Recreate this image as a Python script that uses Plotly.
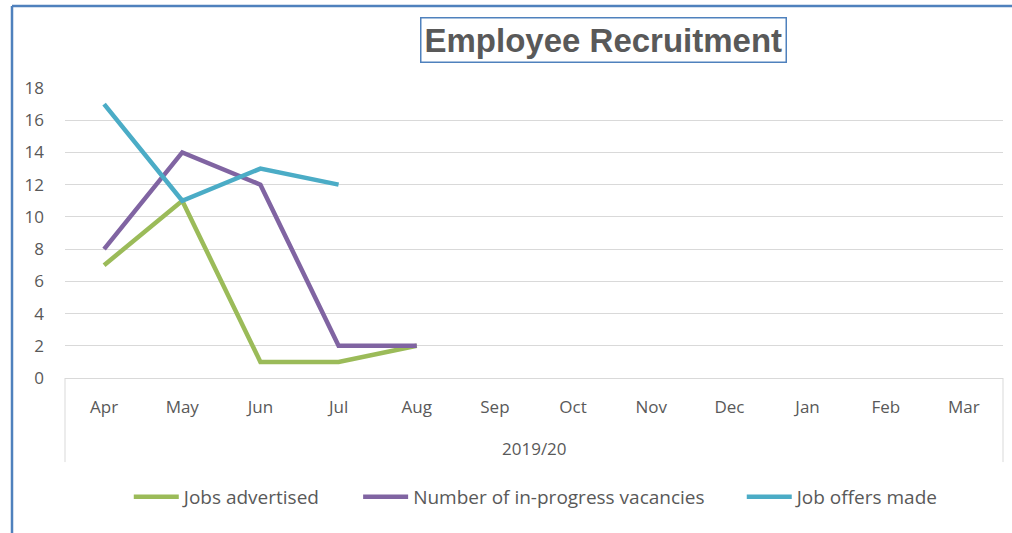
import plotly.graph_objects as go

months = ["Apr", "May", "Jun", "Jul", "Aug", "Sep", "Oct", "Nov", "Dec", "Jan", "Feb", "Mar"]
year_label = "2019/20"

jobs_advertised = [7, 11, 1, 1, 2]
in_progress = [8, 14, 12, 2, 2]
offers_made = [17, 11, 13, 12]

series = [
    ("Jobs advertised", jobs_advertised, "#9BBB59"),
    ("Number of in-progress vacancies", in_progress, "#8064A2"),
    ("Job offers made", offers_made, "#4BACC6"),
]

text_color = "#595959"
grid_color = "#D9D9D9"
border_blue = "#4F81BD"
font_family = "'Open Sans', Lato, sans-serif"

# left edge (in plot-area fraction) of each legend entry
legend_x = [0.068, 0.3125, 0.7215]

fig = go.Figure()
legends = {}
for i, (name, values, color) in enumerate(series):
    key = "legend" if i == 0 else f"legend{i + 1}"
    fig.add_trace(
        go.Scatter(
            x=months[: len(values)],
            y=values,
            name=name,
            mode="lines",
            line=dict(color=color, width=4.5),
            legend=key,
        )
    )
    legends[key] = dict(
        orientation="h",
        x=legend_x[i],
        xanchor="left",
        y=-0.41,
        yanchor="middle",
        font=dict(size=19, color=text_color),
        itemwidth=45,
        bgcolor="rgba(0,0,0,0)",
    )

fig.update_layout(
    width=1012,
    height=533,
    margin=dict(l=65, r=9, t=88, b=155),
    paper_bgcolor="white",
    plot_bgcolor="white",
    font=dict(family=font_family, size=16, color=text_color),
    showlegend=True,
    **legends,
)

fig.update_xaxes(
    type="category",
    categoryorder="array",
    categoryarray=months,
    tickvals=months,
    range=[-0.5, len(months) - 0.5],
    showgrid=False,
    showline=False,
    zeroline=False,
    ticks="",
    ticklabelstandoff=17,
    tickfont=dict(size=17, color=text_color),
    fixedrange=True,
)
fig.update_yaxes(
    range=[0, 18],
    dtick=2,
    showgrid=True,
    gridcolor=grid_color,
    gridwidth=1,
    zeroline=True,
    zerolinecolor=grid_color,
    zerolinewidth=1,
    showline=False,
    ticks="",
    ticklabelstandoff=20,
    tickfont=dict(size=17, color=text_color),
    fixedrange=True,
)

# multi-level category axis frame
for xpos in (0, 1):
    fig.add_shape(
        type="line", xref="paper", yref="paper",
        x0=xpos, x1=xpos, y0=0, y1=-0.29,
        line=dict(color=grid_color, width=1),
    )

fig.add_annotation(
    text=year_label, xref="paper", yref="paper",
    x=0.5, y=-0.2414, xanchor="center", yanchor="middle", showarrow=False,
    font=dict(size=17, color=text_color),
)

# title in a bordered box
fig.add_annotation(
    text="<b>Employee Recruitment</b>", xref="paper", yref="paper",
    x=0.5741, y=1.1638, xanchor="center", yanchor="middle", showarrow=False,
    font=dict(family="Liberation Sans, Arial, sans-serif", size=33, color=text_color),
    bordercolor=border_blue, borderwidth=1.5, borderpad=3, bgcolor="white",
)

# chart outer border (left and top edges visible)
fig.add_shape(
    type="line", xref="paper", yref="paper",
    x0=-0.0565, x1=1.02, y0=1.283, y1=1.283,
    line=dict(color=border_blue, width=2.5),
)
fig.add_shape(
    type="line", xref="paper", yref="paper",
    x0=-0.0565, x1=-0.0565, y0=1.283, y1=-0.56,
    line=dict(color=border_blue, width=2.5),
)

fig.write_html(
    "out.html",
    config={"displayModeBar": False},
    post_script="document.body.style.margin='0';document.body.style.overflow='hidden';",
)
